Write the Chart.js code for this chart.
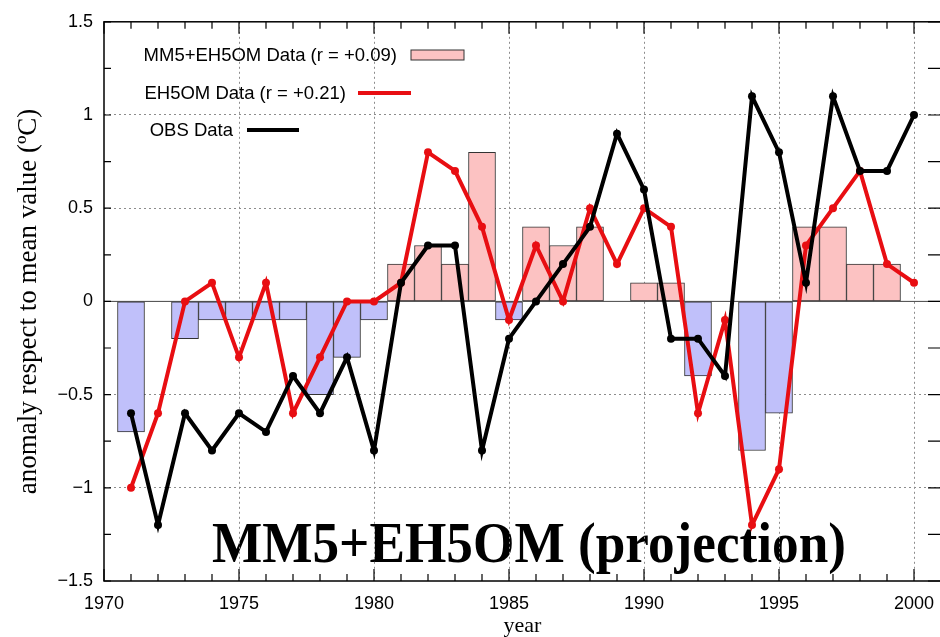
<!DOCTYPE html>
<html>
<head>
<meta charset="utf-8">
<script src="https://cdn.jsdelivr.net/npm/chart.js@4.4.1/dist/chart.umd.min.js"></script>
<style>
html, body { margin: 0; padding: 0; background: #fff; overflow: hidden; }
#wrap { width: 940px; height: 637px; overflow: hidden; }
</style>
</head>
<body>
<div id="wrap"><canvas id="myChart" width="960" height="637"></canvas></div>
<script>
"use strict";

const years = [1971, 1972, 1973, 1974, 1975, 1976, 1977, 1978, 1979, 1980,
	1981, 1982, 1983, 1984, 1985, 1986, 1987, 1988, 1989, 1990,
	1991, 1992, 1993, 1994, 1995, 1996, 1997, 1998, 1999, 2000];
const mm5Eh5om = [-0.7, 0, -0.2, -0.1, -0.1, -0.1, -0.1, -0.5, -0.3, -0.1,
	0.2, 0.3, 0.2, 0.8, -0.1, 0.4, 0.3, 0.4, 0, 0.1,
	0.1, -0.4, 0, -0.8, -0.6, 0.4, 0.4, 0.2, 0.2, 0];
const eh5om = [-1.0, -0.6, 0.0, 0.1, -0.3, 0.1, -0.6, -0.3, 0.0, 0.0,
	0.1, 0.8, 0.7, 0.4, -0.1, 0.3, 0.0, 0.5, 0.2, 0.5,
	0.4, -0.6, -0.1, -1.2, -0.9, 0.3, 0.5, 0.7, 0.2, 0.1];
const obs = [-0.6, -1.2, -0.6, -0.8, -0.6, -0.7, -0.4, -0.6, -0.3, -0.8,
	0.1, 0.3, 0.3, -0.8, -0.2, 0.0, 0.2, 0.4, 0.9, 0.6,
	-0.2, -0.2, -0.4, 1.1, 0.8, 0.1, 1.1, 0.7, 0.7, 1.0];

const xLabels = [1970, 1975, 1980, 1985, 1990, 1995, 2000];
const yLabels = [-1.5, -1, -0.5, 0, 0.5, 1, 1.5];
const legendLabels = ["MM5+EH5OM Data (r = +0.09)", "EH5OM Data (r = +0.21)", "OBS Data"];
const overlayText = "MM5+EH5OM (projection)";

const pink = "rgb(252,194,194)";
const lilac = "rgb(192,192,250)";
const red = "rgb(232,14,18)";

function points(values) {
	return years.map(function (y, i) { return {x: y, y: values[i]}; });
}

// frame, inward ticks, zero line, legend and the big caption
const decor = {
	id: "decor",
	beforeDraw: function (chart) {
		let ctx = chart.ctx;
		ctx.save();
		ctx.font = 'bold 56px "Liberation Serif"';
		ctx.fillStyle = "#000";
		ctx.textBaseline = "alphabetic";
		let w = ctx.measureText(overlayText).width;
		ctx.translate(212, 562);
		ctx.scale(634 / w, 1);
		ctx.fillText(overlayText, 0, 0);
		ctx.restore();
	},
	beforeDatasetsDraw: function (chart) {
		let ctx = chart.ctx, a = chart.chartArea;
		let y0 = chart.scales.y.getPixelForValue(0);
		ctx.save();
		ctx.strokeStyle = "#444";
		ctx.lineWidth = 1;
		ctx.beginPath();
		ctx.moveTo(a.left, y0);
		ctx.lineTo(a.right, y0);
		ctx.stroke();
		ctx.restore();
	},
	afterDatasetsDraw: function (chart) {
		let ctx = chart.ctx, a = chart.chartArea;
		let sx = chart.scales.x, sy = chart.scales.y;
		ctx.save();
		ctx.strokeStyle = "#000";
		ctx.lineWidth = 1.5;
		ctx.strokeRect(a.left, a.top, a.right - a.left, a.bottom - a.top);

		ctx.lineWidth = 1.2;
		ctx.beginPath();
		for (let yr = sx.min; yr <= sx.max; yr++) {
			let px = sx.getPixelForValue(yr);
			let len = (yr % 5 === 0) ? 12 : 7;
			ctx.moveTo(px, a.bottom); ctx.lineTo(px, a.bottom - len);
			ctx.moveTo(px, a.top); ctx.lineTo(px, a.top + len);
		}
		for (let v = sy.min; v <= sy.max + 1e-9; v += 0.25) {
			let py = sy.getPixelForValue(v);
			ctx.moveTo(a.left, py); ctx.lineTo(a.left + 7, py);
			ctx.moveTo(a.right, py); ctx.lineTo(a.right - 13, py);
		}
		ctx.stroke();

		// legend
		ctx.font = '18.5px "Liberation Sans"';
		ctx.fillStyle = "#000";
		ctx.textAlign = "right";
		ctx.textBaseline = "middle";
		ctx.fillText(legendLabels[0], 397, 56);
		ctx.fillText(legendLabels[1], 346, 94);
		ctx.fillText(legendLabels[2], 233, 131);

		ctx.fillStyle = pink;
		ctx.fillRect(411, 50, 53, 10);
		ctx.strokeStyle = "#333";
		ctx.lineWidth = 1;
		ctx.strokeRect(411, 50, 53, 10);

		ctx.lineWidth = 4;
		ctx.strokeStyle = red;
		ctx.beginPath(); ctx.moveTo(358, 93); ctx.lineTo(411, 93); ctx.stroke();
		ctx.strokeStyle = "#000";
		ctx.beginPath(); ctx.moveTo(247, 130); ctx.lineTo(299, 130); ctx.stroke();
		ctx.restore();
	}
};

let myChart = new Chart(document.getElementById("myChart"), {
	type: "bar",
	data: {
		datasets: [
			{
				type: "line",
				label: legendLabels[2],
				data: points(obs),
				borderColor: "#000",
				backgroundColor: "#000",
				borderWidth: 4,
				pointRadius: 4,
				pointBackgroundColor: "#000",
				pointBorderWidth: 0,
				tension: 0,
				order: 0
			},
			{
				type: "line",
				label: legendLabels[1],
				data: points(eh5om),
				borderColor: red,
				backgroundColor: red,
				borderWidth: 4,
				pointRadius: 4,
				pointBackgroundColor: red,
				pointBorderWidth: 0,
				tension: 0,
				order: 1
			},
			{
				type: "bar",
				label: legendLabels[0],
				data: points(mm5Eh5om),
				backgroundColor: function (c) { return (c.raw && c.raw.y < 0) ? lilac : pink; },
				borderColor: "#333",
				borderWidth: 1,
				borderSkipped: false,
				barPercentage: 1,
				categoryPercentage: 1,
				order: 2
			}
		]
	},
	options: {
		responsive: false,
		animation: false,
		layout: { padding: { top: 18, right: 19, left: 0, bottom: 0 } },
		plugins: { legend: { display: false }, tooltip: { enabled: false } },
		scales: {
			x: {
				type: "linear",
				min: 1970,
				max: 2001,
				offset: false,
				afterFit: function (s) { s.height = 56; },
				afterBuildTicks: function (s) { s.ticks = xLabels.map(function (v) { return {value: v}; }); },
				ticks: { font: { family: "Liberation Sans", size: 18 }, color: "#000", padding: 12, maxRotation: 0, autoSkip: false,
					callback: function (v) { return String(v); } },
				grid: {
					offset: false,
					drawTicks: false,
					color: function (c) { return (c.tick && c.tick.value === 1970) ? "rgba(0,0,0,0)" : "#8c8c8c"; }
				},
				border: { display: false, dash: [2, 3] },
				title: { display: true, text: "year", font: { family: "Liberation Serif", size: 22, lineHeight: 1 }, color: "#000", padding: { top: 0, bottom: 0 } }
			},
			y: {
				min: -1.5,
				max: 1.5,
				afterFit: function (s) { s.width = 104; },
				afterBuildTicks: function (s) { s.ticks = yLabels.map(function (v) { return {value: v}; }); },
				ticks: { font: { family: "Liberation Sans", size: 18 }, color: "#000", padding: 11,
					callback: function (v) { return String(v).replace("-", "\u2212"); } },
				grid: {
					drawTicks: false,
					color: function (c) {
						let v = c.tick ? c.tick.value : 0;
						return (v === 0 || Math.abs(v) === 1.5) ? "rgba(0,0,0,0)" : "#8c8c8c";
					}
				},
				border: { display: false, dash: [2, 3] },
				title: { display: true, text: "anomaly respect to mean value (\u00baC)", font: { family: "Liberation Serif", size: 27 }, color: "#000", padding: { top: 13, bottom: 0 } }
			}
		}
	},
	plugins: [decor]
});
</script>
</body>
</html>
